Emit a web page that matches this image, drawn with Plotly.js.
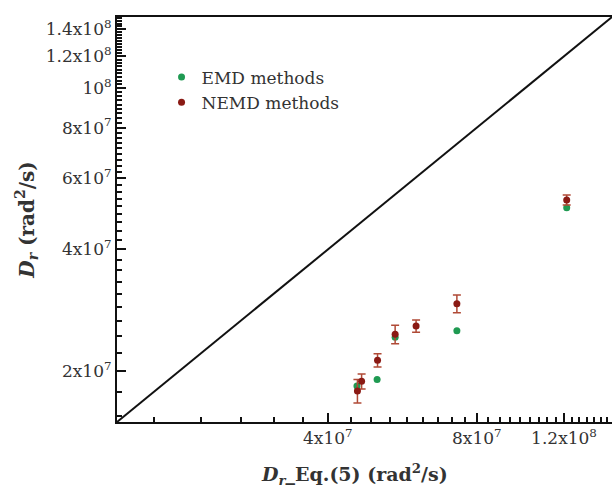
<!DOCTYPE html>
<html>
<head>
<meta charset="utf-8">
<script src="https://cdn.plot.ly/plotly-3.0.1.min.js"></script>
<style>html,body{margin:0;padding:0;background:#fff;}#chart{width:612px;height:495px;}</style>
</head>
<body>
<div id="chart"></div>
<script>
// Data (rad^2/s)
const emdX = [4.58e7, 5.03e7, 5.47e7, 7.29e7, 1.215e8];
const emdY = [1.84e7, 1.91e7, 2.43e7, 2.52e7, 5.07e7];

const nemdX = [4.59e7, 4.68e7, 5.04e7, 5.47e7, 6.03e7, 7.29e7, 1.215e8];
const nemdY = [1.79e7, 1.89e7, 2.13e7, 2.47e7, 2.59e7, 2.94e7, 5.30e7];
const nemdErr = [1.2e6, 0.8e6, 0.8e6, 1.3e6, 0.9e6, 1.5e6, 1.5e6];

const diagX = [1.5e7, 1.5e8];
const diagY = [1.5e7, 1.5e8];

const xTickVals = [4e7, 8e7, 1.2e8];
const xTickText = ['4x10<sup>7</sup>', '8x10<sup>7</sup>', '1.2x10<sup>8</sup>'];
const yTickVals = [2e7, 4e7, 6e7, 8e7, 1e8, 1.2e8, 1.4e8];
const yTickText = ['2x10<sup>7</sup>', '4x10<sup>7</sup>', '6x10<sup>7</sup>', '8x10<sup>7</sup>',
                   '10<sup>8</sup>', '1.2x10<sup>8</sup>', '1.4x10<sup>8</sup>'];

// minor tick positions (axis styling)
const xMinor = [];
for (let k = 4; k <= 33; k++) if (k % 9 !== 0) xMinor.push(k * 4e7 / 9);
const yMinor = [];
for (let k = 7; k <= 67; k++) if (k % 9 !== 0) yMinor.push(k * 2e7 / 9);

const serif = 'DejaVu Serif, Liberation Serif, serif';
const RANGE = [Math.log10(1.5e7), Math.log10(1.5e8)];

const traces = [
  {x: diagX, y: diagY, mode: 'lines', line: {color: '#111', width: 2}, showlegend: false, hoverinfo: 'skip'},
  {x: emdX, y: emdY, mode: 'markers', name: 'EMD methods',
   marker: {color: '#1f9a52', size: 7}},
  {x: nemdX, y: nemdY, mode: 'markers', name: 'NEMD methods',
   marker: {color: '#8a1a14', size: 7},
   error_y: {type: 'data', array: nemdErr, visible: true, color: '#b04a36', thickness: 1.5, width: 4}},
  // empty trace that carries the minor-tick overlay axes
  {x: [], y: [], xaxis: 'x2', yaxis: 'y2', mode: 'markers', showlegend: false, hoverinfo: 'skip'}
];

const layout = {
  width: 612, height: 495,
  margin: {l: 117, r: 0, t: 17, b: 73},
  paper_bgcolor: '#fff', plot_bgcolor: '#fff',
  font: {family: serif, color: '#333', size: 17},
  showlegend: true,
  legend: {x: 0.09, y: 0.895, xanchor: 'left', yanchor: 'top', bgcolor: 'rgba(0,0,0,0)',
           font: {family: serif, size: 17, color: '#333'}},
  xaxis: {
    type: 'log', range: RANGE,
    tickmode: 'array', tickvals: xTickVals, ticktext: xTickText,
    ticks: 'inside', ticklen: 9, tickwidth: 2, tickcolor: '#111',
    showline: true, linecolor: '#111', linewidth: 2, mirror: true,
    showgrid: false, zeroline: false,
    tickfont: {family: serif, size: 17, color: '#333'}
  },
  yaxis: {
    type: 'log', range: RANGE,
    tickmode: 'array', tickvals: yTickVals, ticktext: yTickText,
    ticks: 'inside', ticklen: 9, tickwidth: 2, tickcolor: '#111',
    showline: true, linecolor: '#111', linewidth: 2, mirror: false,
    showgrid: false, zeroline: false,
    tickfont: {family: serif, size: 17, color: '#333'},
    title: {text: '<b><i>D</i><sub><i>r</i></sub> (rad<sup>2</sup>/s)</b>', font: {family: serif, size: 20, color: '#333'}, standoff: 6}
  },
  xaxis2: {
    type: 'log', range: RANGE, overlaying: 'x', anchor: 'y', side: 'bottom',
    tickmode: 'array', tickvals: xMinor, showticklabels: false,
    ticks: 'inside', ticklen: 5, tickwidth: 2, tickcolor: '#111',
    showline: false, showgrid: false, zeroline: false
  },
  yaxis2: {
    type: 'log', range: RANGE, overlaying: 'y', anchor: 'x', side: 'left',
    tickmode: 'array', tickvals: yMinor, showticklabels: false,
    ticks: 'inside', ticklen: 5, tickwidth: 2, tickcolor: '#111',
    showline: false, showgrid: false, zeroline: false
  },
  annotations: [{
    xref: 'paper', yref: 'paper', x: 0.48, y: -0.092, xanchor: 'center', yanchor: 'top',
    showarrow: false,
    text: '<b><i>D</i><sub><i>r</i></sub>_Eq.(5) (rad<sup>2</sup>/s)</b>',
    font: {family: serif, size: 19, color: '#333'}
  }]
};

Plotly.newPlot('chart', traces, layout, {displayModeBar: false, staticPlot: true});
</script>
</body>
</html>
